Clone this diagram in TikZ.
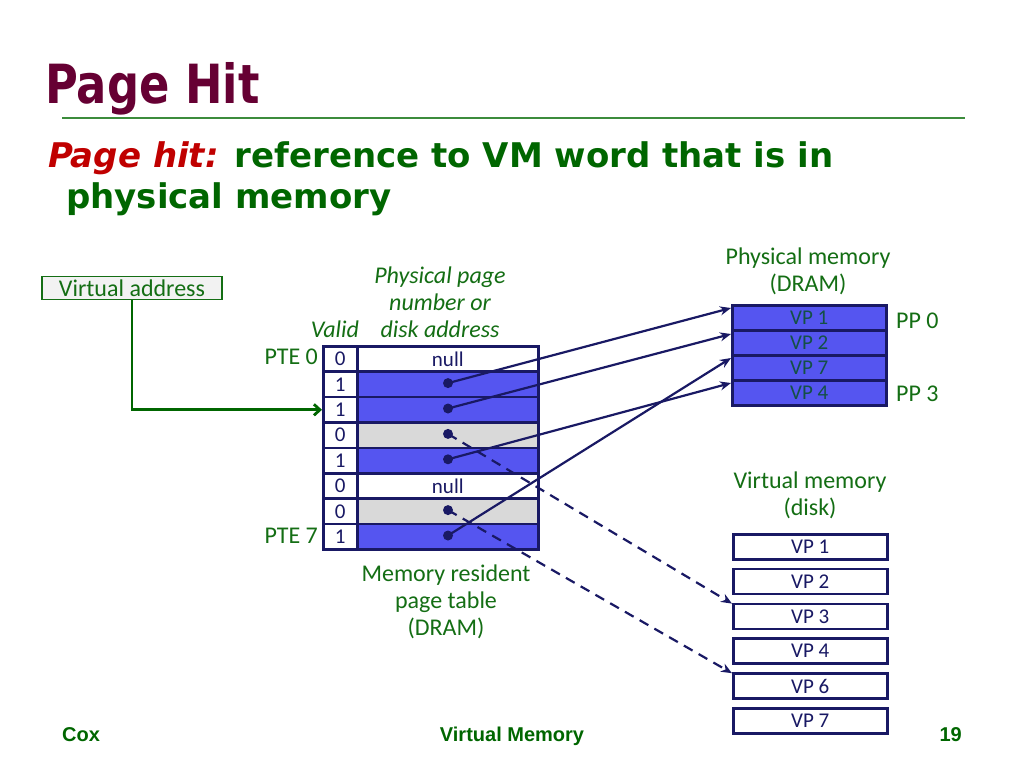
\documentclass[tikz,border=0pt]{standalone}
\usepackage{fontspec}
\setmainfont{Carlito}
\newfontfamily\titlefont[FakeStretch=0.83]{DejaVu Sans}
\newfontfamily\subfont{DejaVu Sans}
\newfontfamily\footfont{Liberation Sans}
\usetikzlibrary{arrows.meta}
\definecolor{titlered}{RGB}{102,0,51}
\definecolor{hgreen}{RGB}{0,102,0}
\definecolor{lgreen}{RGB}{20,110,20}
\definecolor{rulegreen}{RGB}{60,140,60}
\definecolor{hred}{RGB}{192,0,0}
\definecolor{navy}{RGB}{25,25,100}
\definecolor{pblue}{RGB}{85,85,240}
\definecolor{pgrey}{RGB}{217,217,217}
\definecolor{vpgreen}{RGB}{20,80,70}
\begin{document}
\begin{tikzpicture}[x=1pt,y=-1pt,
  lbl/.style={text=lgreen,font=\fontsize{24}{27}\selectfont,align=center,inner sep=0pt},
  cellv/.style={draw=navy,line width=2.6pt,minimum width=34pt,minimum height=25.4pt,inner sep=0pt,text=navy,font=\fontsize{21}{21}\selectfont,anchor=north west},
  celld/.style={draw=navy,line width=2.6pt,minimum width=181pt,minimum height=25.4pt,inner sep=0pt,text=navy,font=\fontsize{21}{21}\selectfont,anchor=north west},
  pmrow/.style={draw=navy,line width=2.6pt,fill=pblue,minimum width=154pt,minimum height=25pt,inner sep=0pt,text=vpgreen,font=\fontsize{21}{21}\selectfont,anchor=north west},
  diskrow/.style={draw=navy,line width=2.6pt,fill=white,minimum width=154pt,minimum height=25pt,inner sep=0pt,text=navy,font=\fontsize{21}{21}\selectfont,anchor=north west},
  ptr/.style={navy,line width=2.2pt,-{Stealth[length=11pt,width=9pt]}},
  dptr/.style={navy,line width=2.2pt,dash pattern=on 10pt off 7pt,-{Stealth[length=11pt,width=9pt]}},
  dotnode/.style={circle,fill=navy,inner sep=0pt,minimum size=10pt},
  foot/.style={text=hgreen,font=\footfont\bfseries\fontsize{20}{20}\selectfont,inner sep=0pt}
]
\useasboundingbox (0,0) rectangle (1024,768);
\fill[white] (0,0) rectangle (1024,768);

% title
\node[anchor=base west,inner sep=0pt,text=titlered,font=\titlefont\bfseries\fontsize{54}{54}\selectfont] (title) at (45,103) {Page Hit};
\draw[rulegreen,line width=2.8pt] (62,118) coordinate (r1) -- (965,118) coordinate (r2);
\node[anchor=base west,inner sep=0pt,font=\subfont\bfseries\fontsize{34}{34}\selectfont] (sub1) at (48,167) {\textcolor{hred}{\itshape Page hit:} \textcolor{hgreen}{reference to VM word that is in}};
\node[anchor=base west,inner sep=0pt,text=hgreen,font=\subfont\bfseries\fontsize{34}{34}\selectfont] (sub2) at (66,208) {physical memory};

% virtual address
\node[draw=lgreen,line width=1.5pt,fill=black!5,minimum width=180pt,minimum height=23pt,inner sep=0pt,text=lgreen,font=\fontsize{24}{24}\selectfont] (va) at (132,288) {Virtual address};

% labels
\node[lbl] (ppn) at (440,302) {\itshape Physical page\\ \itshape number or\\ \itshape disk address};
\node[lbl] (valid) at (335,329) {\itshape Valid};
\node[lbl,anchor=east] (pte0) at (318,357) {PTE 0};
\node[lbl,anchor=east] (pte7) at (318,536) {PTE 7};
\node[lbl] (mrpt) at (446,602) {Memory resident\\ page table\\ (DRAM)};

% page table
\foreach \i/\v/\f/\t in {0/0/white/null,1/1/pblue/,2/1/pblue/,3/0/pgrey/,4/1/pblue/,5/0/white/null,6/0/pgrey/,7/1/pblue/} {
  \node[cellv,fill=white] (v\i) at (322,345+25.4*\i) {\v};
  \node[celld,fill=\f] (d\i) at (356,345+25.4*\i) {\t};
}
\foreach \i in {1,2,3,4,6,7} {
  \node[dotnode] (p\i) at (448,357.7+25.4*\i) {};
}

% physical memory
\node[lbl] (pmlbl) at (808,271) {Physical memory\\ (DRAM)};
\foreach \i/\t in {0/VP 1,1/VP 2,2/VP 7,3/VP 4} {
  \node[pmrow] (pm\i) at (731,304+25*\i) {\t};
}
\node[lbl,anchor=west] (pp0) at (896,321) {PP 0};
\node[lbl,anchor=west] (pp3) at (896,394) {PP 3};

% virtual memory
\node[lbl] (vmlbl) at (810,495) {Virtual memory\\ (disk)};
\foreach \i/\t in {0/VP 1,1/VP 2,2/VP 3,3/VP 4,4/VP 6,5/VP 7} {
  \node[diskrow] (vm\i) at (732,533+34.8*\i) {\t};
}

% arrows
\draw[hgreen,line width=2.8pt,-{Straight Barb[length=6pt,width=11pt]}] (va.south) |- (v2.west);
\draw[ptr] (p1.center) -- ([yshift=-4pt]pm0.north west);
\draw[ptr] (p2.center) -- ([yshift=-5pt]pm1.north west);
\draw[ptr] (p4.center) -- ([yshift=-4pt]pm3.north west);
\draw[ptr] (p7.center) -- ([yshift=-4pt]pm2.north west);
\draw[dptr] (p3.center) -- ([yshift=-1pt]vm2.north west);
\draw[dptr] (p6.center) -- ([yshift=-1pt]vm4.north west);

% footer
\node[foot,anchor=base west] (cox) at (62,741) {Cox};
\node[foot,anchor=base] (vmfoot) at (512,741) {Virtual Memory};
\node[foot,anchor=base east] (num) at (962,741) {19};
\end{tikzpicture}
\end{document}
